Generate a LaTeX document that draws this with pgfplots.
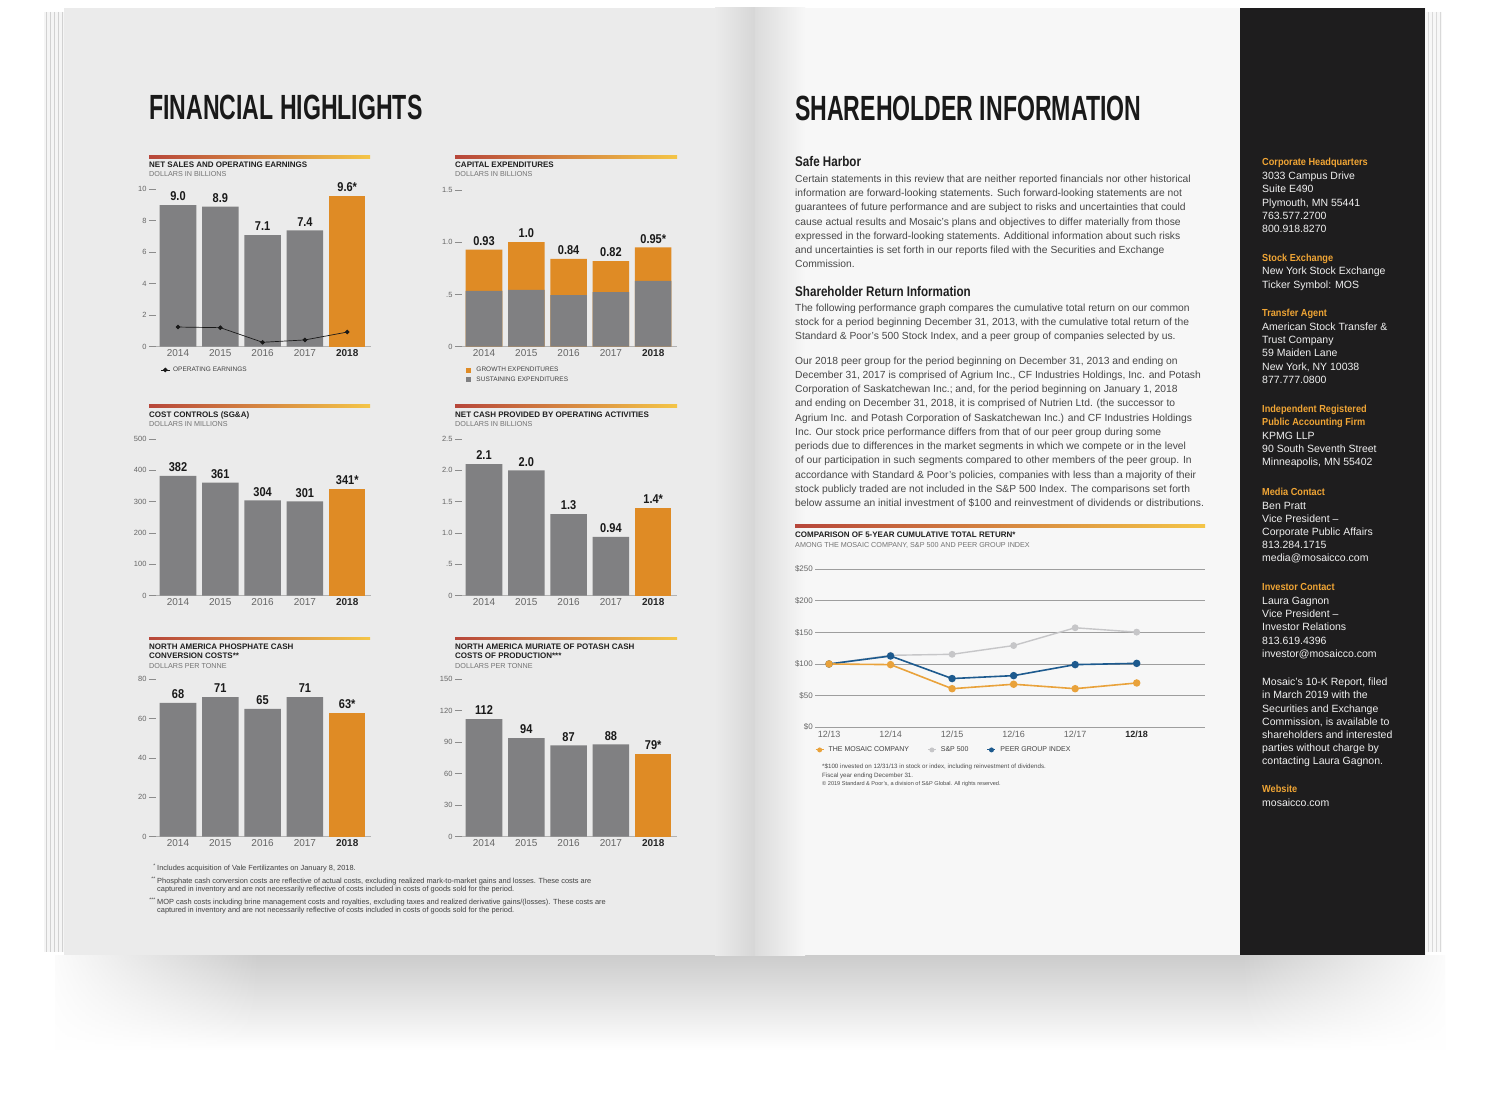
\documentclass[border=0pt]{standalone}
\usepackage{pgfplots}
\pgfplotsset{compat=1.18}
\usetikzlibrary{fadings}
\usepackage{fontspec}
\setmainfont{Liberation Sans}
\newfontfamily\condf[FakeStretch=0.66]{Liberation Sans}
\newfontfamily\headf[FakeStretch=0.83]{Liberation Sans}
\newfontfamily\sidef[FakeStretch=0.9]{Liberation Sans}
\newfontfamily\valf[FakeStretch=0.86]{Liberation Sans}

\definecolor{bgray}{HTML}{808082}
\definecolor{borange}{HTML}{DF8B25}
\definecolor{ruleL}{HTML}{B7463A}
\definecolor{ruleR}{HTML}{F4C547}
\definecolor{pageL}{HTML}{EBEBEB}
\definecolor{pageR}{HTML}{F7F7F7}
\definecolor{side}{HTML}{1E1D1E}
\definecolor{sorange}{HTML}{F0A535}
\definecolor{cmos}{HTML}{E9A23B}
\definecolor{csp}{HTML}{C6C6C8}
\definecolor{cpeer}{HTML}{1D5A8E}

\newcommand\yt[1]{#1\hspace{2.3pt}\textcolor{black!45}{\rule[2.4pt]{7pt}{0.6pt}}}
\newcommand\rul[3]{\shade[left color=ruleL, right color=ruleR] (#1,#3-1.2) rectangle (#2,#3+1.2);}
\newcommand\ctit[3]{\node[anchor=base west,inner sep=0pt,font=\bfseries\fontsize{8}{8}\selectfont,text=black!88] at (#1,#2) {#3};}
\newcommand\csub[3]{\node[anchor=base west,inner sep=0pt,font=\fontsize{7.2}{7.2}\selectfont,text=black!55] at (#1,#2) {#3};}
\newcommand\bl[2]{\node[anchor=base west,inner sep=0pt,font=\fontsize{10.3}{10.3}\selectfont,text=black!72] at (795,#1) {#2};}
\newcommand\sbh[2]{\node[anchor=base west,inner sep=0pt,font=\sidef\bfseries\fontsize{10.2}{10.2}\selectfont,text=sorange] at (1262,#1) {#2};}
\newcommand\sbl[2]{\node[anchor=base west,inner sep=0pt,font=\fontsize{10.5}{10.5}\selectfont,text=black!6] at (1262,#1) {#2};}

\pgfplotsset{
  bc/.style={
    scale only axis, width=214.5pt,
    xmin=-0.52, xmax=4.55, ymin=0,
    axis lines*=left,
    y axis line style={draw=none},
    x axis line style={draw=black!30, line width=0.9pt},
    xtick={0,1,2,3,4},
    xticklabels={2014,2015,2016,2017,{\bfseries\color{black!85}2018}},
    major tick length=0pt,
    xticklabel style={font=\fontsize{10}{10}\selectfont, text=black!60, inner sep=0pt, anchor=north, yshift=-3pt},
    yticklabel style={font=\fontsize{7.5}{7.5}\selectfont, text=black!60, inner sep=0pt, anchor=east},
    clip=false,
    bar width=0.863,
  },
  vl/.style={nodes near coords, point meta=explicit symbolic,
    every node near coord/.append style={font=\valf\bfseries\fontsize{12.8}{12.8}\selectfont, text=black!90, anchor=south, inner sep=0pt, yshift=4pt}},
}

\begin{document}
\begin{tikzpicture}[x=1pt,y=-1pt]
% ---------- background ----------
\fill[white] (0,0) rectangle (1500,1094);
\shade[top color=black!20, bottom color=white] (55,955) rectangle (1445,1050);
\fill[white, path fading=east] (40,950) rectangle (260,1070);
\fill[white, path fading=west] (1240,950) rectangle (1460,1070);
\fill[black!4] (44,12) rectangle (70,952);
\foreach \xx in {46,50,54,58,62}{\draw[black!18, line width=0.5pt] (\xx,12) -- (\xx,952);}
\fill[pageL] (64,8) rectangle (755,955);
\shade[left color=pageL, right color=black!16] (715,8) rectangle (755,955);
\fill[black!3] (1425,12) rectangle (1442,952);
\foreach \xx in {1428,1432,1436,1440}{\draw[black!15, line width=0.5pt] (\xx,12) -- (\xx,952);}
\fill[pageR] (755,8) rectangle (1426,955);
\shade[left color=black!14, right color=pageR] (755,8) rectangle (805,955);
\fill[side] (1240,8) rectangle (1425,955);

% ---------- page titles ----------
\node[anchor=base west,inner sep=0pt,font=\condf\bfseries\fontsize{35}{35}\selectfont,text=black!90] at (149,120) {FINANCIAL HIGHLIGHTS};
\node[anchor=base west,inner sep=0pt,font=\condf\bfseries\fontsize{35}{35}\selectfont,text=black!90] at (795,121) {SHAREHOLDER INFORMATION};

% ---------- chart headers ----------
\rul{149}{370}{157}\ctit{149}{167.4}{NET SALES AND OPERATING EARNINGS}\csub{149}{177}{DOLLARS IN BILLIONS}
\rul{455}{677}{157}\ctit{455}{167.4}{CAPITAL EXPENDITURES}\csub{455}{177}{DOLLARS IN BILLIONS}
\rul{149}{370}{406}\ctit{149}{417.9}{COST CONTROLS (SG\&A)}\csub{149}{426.5}{DOLLARS IN MILLIONS}
\rul{455}{677}{406}\ctit{455}{417.9}{NET CASH PROVIDED BY OPERATING ACTIVITIES}\csub{455}{426.5}{DOLLARS IN BILLIONS}
\rul{149}{370}{638.3}\ctit{149}{649.6}{NORTH AMERICA PHOSPHATE CASH}\ctit{149}{658.6}{CONVERSION COSTS**}\csub{149}{668.5}{DOLLARS PER TONNE}
\rul{455}{677}{638.3}\ctit{455}{649.6}{NORTH AMERICA MURIATE OF POTASH CASH}\ctit{455}{658.6}{COSTS OF PRODUCTION***}\csub{455}{668.5}{DOLLARS PER TONNE}

% ---------- chart 1 ----------
\begin{axis}[bc, at={(156pt,-346.7pt)}, anchor=south west, height=157.3pt, ymax=10,
  ytick={0,2,4,6,8,10}, yticklabels={\yt{0},\yt{2},\yt{4},\yt{6},\yt{8},\yt{10}},
  legend style={draw=none, fill=none, at={(rel axis cs:0.02,-0.148)}, anchor=west,
    font=\fontsize{6.5}{6.5}\selectfont, text=black!75, inner sep=0pt, nodes={inner sep=1.5pt},
    /tikz/every odd column/.append style={column sep=1.5pt}},
  legend image code/.code={\draw[mark repeat=2,mark phase=2,#1] plot coordinates {(0pt,0pt) (4.5pt,0pt) (9pt,0pt)};}]
\addplot[forget plot, ybar, bar shift=0pt, fill=bgray, draw=none, vl] table[meta=l] {
x y l
0 9.0 9.0
1 8.9 8.9
2 7.1 7.1
3 7.4 7.4
};
\addplot[forget plot, ybar, bar shift=0pt, fill=borange, draw=none, vl] table[meta=l] {
x y l
4 9.6 9.6*
};
\addplot[black!90, line width=0.7pt, mark=*, mark size=1.9pt] coordinates {(0,1.25) (1,1.21) (2,0.28) (3,0.43) (4,0.93)};
\addlegendentry{OPERATING EARNINGS}
\end{axis}

% ---------- chart 2 ----------
\begin{axis}[bc, at={(462pt,-346.7pt)}, anchor=south west, height=156.7pt, ymax=1.5,
  ytick={0,0.5,1,1.5}, yticklabels={\yt{0},\yt{.5},\yt{1.0},\yt{1.5}},
  legend style={draw=none, fill=none, at={(rel axis cs:0.019,-0.123)}, anchor=north west,
    font=\fontsize{6.5}{6.5}\selectfont, text=black!75, inner sep=0pt, nodes={inner sep=1pt}, row sep=1.5pt,
    /tikz/every odd column/.append style={column sep=4pt}},
  legend cell align=left,
  legend image code/.code={\fill[#1] (0pt,-2.6pt) rectangle (5.2pt,2.6pt);}]
\addplot[forget plot, ybar, bar shift=0pt, fill=borange, draw=none, vl] table[meta=l] {
x y l
0 0.93 0.93
1 1.00 1.0
2 0.84 0.84
3 0.82 0.82
4 0.95 0.95*
};
\addplot[forget plot, ybar, bar shift=0pt, fill=bgray, draw=none] coordinates {(0,0.535) (1,0.545) (2,0.494) (3,0.523) (4,0.629)};
\addlegendimage{fill=borange, draw=none}\addlegendentry{GROWTH EXPENDITURES}
\addlegendimage{fill=bgray, draw=none}\addlegendentry{SUSTAINING EXPENDITURES}
\end{axis}

% ---------- chart 3 ----------
\begin{axis}[bc, at={(156pt,-595.7pt)}, anchor=south west, height=156.7pt, ymax=500,
  ytick={0,100,200,300,400,500}, yticklabels={\yt{0},\yt{100},\yt{200},\yt{300},\yt{400},\yt{500}}]
\addplot[ybar, bar shift=0pt, fill=bgray, draw=none, vl] table[meta=l] {
x y l
0 382 382
1 361 361
2 304 304
3 301 301
};
\addplot[ybar, bar shift=0pt, fill=borange, draw=none, vl] table[meta=l] {
x y l
4 341 341*
};
\end{axis}

% ---------- chart 4 ----------
\begin{axis}[bc, at={(462pt,-595.7pt)}, anchor=south west, height=156.7pt, ymax=2.5,
  ytick={0,0.5,1,1.5,2,2.5}, yticklabels={\yt{0},\yt{.5},\yt{1.0},\yt{1.5},\yt{2.0},\yt{2.5}}]
\addplot[ybar, bar shift=0pt, fill=bgray, draw=none, vl] table[meta=l] {
x y l
0 2.1 2.1
1 2.0 2.0
2 1.3 1.3
3 0.94 0.94
};
\addplot[ybar, bar shift=0pt, fill=borange, draw=none, vl] table[meta=l] {
x y l
4 1.4 1.4*
};
\end{axis}

% ---------- chart 5 ----------
\begin{axis}[bc, at={(156pt,-836.7pt)}, anchor=south west, height=157.4pt, ymax=80,
  ytick={0,20,40,60,80}, yticklabels={\yt{0},\yt{20},\yt{40},\yt{60},\yt{80}}]
\addplot[ybar, bar shift=0pt, fill=bgray, draw=none, vl] table[meta=l] {
x y l
0 68 68
1 71 71
2 65 65
3 71 71
};
\addplot[ybar, bar shift=0pt, fill=borange, draw=none, vl] table[meta=l] {
x y l
4 63 63*
};
\end{axis}

% ---------- chart 6 ----------
\begin{axis}[bc, at={(462pt,-836.7pt)}, anchor=south west, height=157.4pt, ymax=150,
  ytick={0,30,60,90,120,150}, yticklabels={\yt{0},\yt{30},\yt{60},\yt{90},\yt{120},\yt{150}}]
\addplot[ybar, bar shift=0pt, fill=bgray, draw=none, vl] table[meta=l] {
x y l
0 112 112
1 94 94
2 87 87
3 88 88
};
\addplot[ybar, bar shift=0pt, fill=borange, draw=none, vl] table[meta=l] {
x y l
4 79 79*
};
\end{axis}

% ---------- left footnotes ----------
\begin{scope}[every node/.style={anchor=base west,inner sep=0pt,font=\fontsize{7.4}{7.4}\selectfont,text=black!75}]
\node at (146,870.5) {\makebox[11pt][r]{\textsuperscript{*}\,}Includes acquisition of Vale Fertilizantes on January 8, 2018.};
\node at (146,883.5) {\makebox[11pt][r]{\textsuperscript{**}\,}Phosphate cash conversion costs are reflective of actual costs, excluding realized mark-to-market gains and losses. These costs are};
\node at (157,891.7) {captured in inventory and are not necessarily reflective of costs included in costs of goods sold for the period.};
\node at (146,904.7) {\makebox[11pt][r]{\textsuperscript{***}\,}MOP cash costs including brine management costs and royalties, excluding taxes and realized derivative gains/(losses). These costs are};
\node at (157,912.9) {captured in inventory and are not necessarily reflective of costs included in costs of goods sold for the period.};
\end{scope}

% ---------- right page text ----------
\node[anchor=base west,inner sep=0pt,font=\headf\bfseries\fontsize{14}{14}\selectfont,text=black!88] at (795,167) {Safe Harbor};
\bl{182.5}{Certain statements in this review that are neither reported financials nor other historical}
\bl{196.75}{information are forward-looking statements. Such forward-looking statements are not}
\bl{211}{guarantees of future performance and are subject to risks and uncertainties that could}
\bl{225.25}{cause actual results and Mosaic’s plans and objectives to differ materially from those}
\bl{239.5}{expressed in the forward-looking statements. Additional information about such risks}
\bl{253.75}{and uncertainties is set forth in our reports filed with the Securities and Exchange}
\bl{268}{Commission.}
\node[anchor=base west,inner sep=0pt,font=\headf\bfseries\fontsize{14}{14}\selectfont,text=black!88] at (795,297) {Shareholder Return Information};
\bl{311}{The following performance graph compares the cumulative total return on our common}
\bl{325.25}{stock for a period beginning December 31, 2013, with the cumulative total return of the}
\bl{339.5}{Standard \& Poor’s 500 Stock Index, and a peer group of companies selected by us.}
\bl{364}{Our 2018 peer group for the period beginning on December 31, 2013 and ending on}
\bl{378.25}{December 31, 2017 is comprised of Agrium Inc., CF Industries Holdings, Inc. and Potash}
\bl{392.5}{Corporation of Saskatchewan Inc.; and, for the period beginning on January 1, 2018}
\bl{406.75}{and ending on December 31, 2018, it is comprised of Nutrien Ltd. (the successor to}
\bl{421}{Agrium Inc. and Potash Corporation of Saskatchewan Inc.) and CF Industries Holdings}
\bl{435.25}{Inc. Our stock price performance differs from that of our peer group during some}
\bl{449.5}{periods due to differences in the market segments in which we compete or in the level}
\bl{463.75}{of our participation in such segments compared to other members of the peer group. In}
\bl{478}{accordance with Standard \& Poor’s policies, companies with less than a majority of their}
\bl{492.25}{stock publicly traded are not included in the S\&P 500 Index. The comparisons set forth}
\bl{506.5}{below assume an initial investment of \$100 and reinvestment of dividends or distributions.}

% ---------- line chart ----------
\rul{795}{1205}{526}
\ctit{795}{537.9}{COMPARISON OF 5-YEAR CUMULATIVE TOTAL RETURN*}
\csub{795}{547.5}{AMONG THE MOSAIC COMPANY, S\&P 500 AND PEER GROUP INDEX}
\begin{axis}[scale only axis, width=390pt, height=158.3pt, at={(815pt,-727.3pt)}, anchor=south west,
  xmin=-0.228, xmax=6.11, ymin=0, ymax=250, clip=false,
  axis line style={draw=none}, major tick length=0pt,
  ymajorgrids, grid style={black!38, line width=0.7pt},
  ytick={0,50,100,150,200,250}, yticklabels={\$0,\$50,\$100,\$150,\$200,\$250},
  yticklabel style={font=\fontsize{8}{8}\selectfont, text=black!60, inner sep=0pt, anchor=east, xshift=-2pt},
  xtick={0,1,2,3,4,5}, xticklabels={12/13,12/14,12/15,12/16,12/17,{\bfseries\color{black!85}12/18}},
  xticklabel style={font=\fontsize{9}{9}\selectfont, text=black!60, inner sep=0pt, anchor=north, yshift=-3pt},
  legend columns=3,
  legend style={draw=none, fill=none, at={(rel axis cs:0,-0.143)}, anchor=west,
    font=\fontsize{7}{7}\selectfont, text=black!75, inner sep=0pt, nodes={inner sep=1.5pt},
    /tikz/every odd column/.append style={column sep=3pt},
    /tikz/every even column/.append style={column sep=17pt}},
  legend image code/.code={\draw[mark repeat=2,mark phase=2,#1] plot coordinates {(0pt,0pt) (4pt,0pt) (8pt,0pt)};}]
\addplot[forget plot, csp, line width=1.4pt, mark=*, mark size=2.7pt] coordinates {(0,100) (1,113.7) (2,115.3) (3,129.1) (4,157.2) (5,150.3)};
\addplot[forget plot, cpeer, line width=1.6pt, mark=*, mark size=2.9pt] coordinates {(0,100) (1,112.6) (2,77) (3,81.6) (4,99) (5,101)};
\addplot[forget plot, cmos, line width=1.6pt, mark=*, mark size=2.9pt] coordinates {(0,100) (1,99) (2,61) (3,68) (4,61) (5,70)};
\addlegendimage{cmos, line width=0.9pt, mark=*, mark size=2pt}\addlegendentry{THE MOSAIC COMPANY}
\addlegendimage{csp, line width=0.9pt, mark=*, mark size=2pt}\addlegendentry{S\&P 500}
\addlegendimage{cpeer, line width=0.9pt, mark=*, mark size=2pt}\addlegendentry{PEER GROUP INDEX}
\end{axis}
\node[anchor=base west,inner sep=0pt,font=\fontsize{6.2}{6.2}\selectfont,text=black!70] at (822,768) {*\$100 invested on 12/31/13 in stock or index, including reinvestment of dividends.};
\node[anchor=base west,inner sep=0pt,font=\fontsize{6.2}{6.2}\selectfont,text=black!70] at (822,777) {Fiscal year ending December 31.};
\node[anchor=base west,inner sep=0pt,font=\fontsize{5.6}{5.6}\selectfont,text=black!70] at (822,785.5) {© 2019 Standard \& Poor’s, a division of S\&P Global. All rights reserved.};

% ---------- sidebar ----------
\sbh{165.7}{Corporate Headquarters}
\sbl{179.7}{3033 Campus Drive}
\sbl{192.9}{Suite E490}
\sbl{206.1}{Plymouth, MN 55441}
\sbl{219.3}{763.577.2700}
\sbl{232.5}{800.918.8270}
\sbh{261.2}{Stock Exchange}
\sbl{275}{New York Stock Exchange}
\sbl{288.2}{Ticker Symbol: MOS}
\sbh{316.7}{Transfer Agent}
\sbl{330.5}{American Stock Transfer \&}
\sbl{343.7}{Trust Company}
\sbl{356.9}{59 Maiden Lane}
\sbl{370.1}{New York, NY 10038}
\sbl{383.3}{877.777.0800}
\sbh{412.2}{Independent Registered}
\sbh{425.8}{Public Accounting Firm}
\sbl{439.5}{KPMG LLP}
\sbl{452.7}{90 South Seventh Street}
\sbl{465.9}{Minneapolis, MN 55402}
\sbh{495.2}{Media Contact}
\sbl{509}{Ben Pratt}
\sbl{522.2}{Vice President –}
\sbl{535.4}{Corporate Public Affairs}
\sbl{548.6}{813.284.1715}
\sbl{561.8}{media@mosaicco.com}
\sbh{590.7}{Investor Contact}
\sbl{604.5}{Laura Gagnon}
\sbl{617.7}{Vice President –}
\sbl{630.9}{Investor Relations}
\sbl{644.1}{813.619.4396}
\sbl{657.3}{investor@mosaicco.com}
\sbl{685.7}{Mosaic’s 10-K Report, filed}
\sbl{698.9}{in March 2019 with the}
\sbl{712.1}{Securities and Exchange}
\sbl{725.3}{Commission, is available to}
\sbl{738.5}{shareholders and interested}
\sbl{751.7}{parties without charge by}
\sbl{764.9}{contacting Laura Gagnon.}
\sbh{792.7}{Website}
\sbl{806.5}{mosaicco.com}
\end{tikzpicture}
\end{document}
